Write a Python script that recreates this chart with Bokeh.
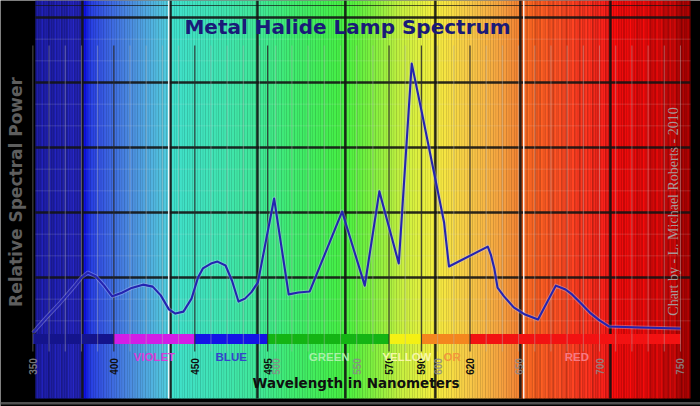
import numpy as np
from bokeh.plotting import figure
from bokeh.models import Range1d, Label
from bokeh.embed import file_html
from bokeh.resources import INLINE

# ---------------- data ----------------
wavelength = [350, 358, 367, 376, 380, 384, 389, 394, 399, 405, 411, 418, 424, 429,
              434, 438, 443, 448, 452, 455, 460, 464, 469, 473, 477, 481, 485, 489,
              499, 508, 514, 521, 541, 555, 564, 576, 584, 590, 604, 607, 631, 633,
              635, 637, 641, 647, 654, 662, 673, 679, 683, 688, 694, 700, 706, 725, 750]
power = [3.0, 7.5, 12.3, 17.5, 20.0, 21.5, 20.3, 17.5, 14.2, 15.3, 16.8, 17.8, 17.2, 14.5,
         10.2, 8.9, 9.5, 13.5, 20.0, 22.8, 24.3, 24.9, 23.7, 19.0, 12.6, 13.5, 15.5, 18.5,
         44.3, 14.8, 15.4, 15.7, 40.3, 17.5, 46.5, 24.3, 85.8, 71.4, 36.9, 23.4, 29.5, 26.8,
         22.8, 16.9, 14.2, 10.8, 8.6, 7.1, 17.5, 16.3, 14.8, 12.3, 9.2, 6.8, 4.9, 4.6, 4.3]

tick_values = [350, 400, 450, 495, 500, 550, 570, 590, 600, 620, 650, 700, 750]
major_ticks = [400, 450, 495, 570, 590, 620]

band_edges = [350, 400, 450, 495, 570, 590, 620, 750]
band_colors = ["#14148c", "#d21ee6", "#1414e6", "#14b414", "#f4f014", "#f4861e", "#f21212"]
band_names = ["", "VIOLET", "BLUE", "GREEN", "YELLOW", "OR", "RED"]
band_name_colors = ["#000000", "#d83cd8", "#3444cc", "#a8f0a8", "#f6f6a8", "#f0963c", "#f47a84"]
band_name_x = [375, 425, 472.5, 533, 581, 609, 686]

# background spectrum colour stops (wavelength, colour)
stop_nm = [351.5, 380.5, 381.5, 386, 395, 410, 425, 434, 436, 460, 488, 510, 543, 560,
           578, 598, 620, 640, 650, 652, 680, 705, 707, 730, 745, 756.2]
stop_col = ["#1c1ca0", "#2424b4", "#0a0ae6", "#2840e2", "#3a60e2", "#4c8ce0", "#52b6e0",
            "#50cedc", "#40e0cc", "#40e4b8", "#40e89a", "#40ec70", "#48f042", "#80f040",
            "#c8f040", "#f6f040", "#f8c848", "#f6a040", "#f48232", "#f86a22", "#f84422",
            "#f01c18", "#f20c0c", "#da0a0a", "#c00808", "#980202"]

# ---------------- geometry helpers ----------------
PX_PER_NM = 1.619
X0 = 330.0
def px_x(px):
    return X0 + px / PX_PER_NM
def px_y(py):
    return (342.0 - py) / 3.25

p = figure(width=700, height=406,
           x_range=Range1d(X0, X0 + 700 / PX_PER_NM),
           y_range=Range1d(px_y(406), px_y(0)),
           x_axis_type=None, y_axis_type=None,
           toolbar_location=None, output_backend="svg", min_border=0,
           background_fill_color="black", border_fill_color="black",
           outline_line_color=None)

# ---------------- spectrum background ----------------
def hex2rgb(h):
    return np.array([int(h[i:i + 2], 16) for i in (1, 3, 5)], dtype=float)

stop_rgb = np.array([hex2rgb(c) for c in stop_col])
left = np.arange(351.5, 756.2, 1.0)
centre = left + 0.5
rgb = np.stack([np.interp(centre, stop_nm, stop_rgb[:, k]) for k in range(3)], axis=1)
striped = (centre < 381) | (centre > 651)
factor = np.where(striped, 1 + 0.10 * np.sin(centre * 2.3) + 0.06 * np.sin(centre * 0.71), 1.0)
rgb = np.clip(rgb * factor[:, None], 0, 255).astype(int)
cols = ["#%02x%02x%02x" % tuple(c) for c in rgb]
p.quad(left=left, right=np.minimum(left + 1.15, 756.2), bottom=px_y(398), top=px_y(0),
       fill_color=cols, line_color=None)

# bottom grey strip
p.quad(left=px_x(0), right=px_x(700), bottom=px_y(404), top=px_y(401.5),
       fill_color="#505050", line_color=None)

# minor horizontal lines
minor_y = [v for v in np.arange(20 / 3, 100, 20 / 3) if abs(v / 20 - round(v / 20)) > 0.01]
p.segment(x0=351.5, x1=756.2, y0=minor_y, y1=minor_y, line_color="#e0e0e0",
          line_alpha=0.17, line_width=1)

# thick background grid
grid_x = [380.6, 435.0, 488.7, 543.0, 598.6, 651.1, 706.7]
grid_y = [20, 40, 60, 80, 100]
p.segment(x0=grid_x, x1=grid_x, y0=px_y(0), y1=px_y(398), line_color="#141414",
          line_alpha=0.9, line_width=2.5)
p.segment(x0=351.5, x1=756.2, y0=grid_y, y1=grid_y, line_color="#141414",
          line_alpha=0.9, line_width=2.5)
p.segment(x0=351.5, x1=756.2, y0=px_y(5), y1=px_y(5), line_color="#141414",
          line_alpha=0.7, line_width=1.2)
white_x = [433.9, 653.2]
p.segment(x0=white_x, x1=white_x, y0=px_y(0), y1=px_y(398), line_color="#ffffff",
          line_alpha=0.9, line_width=1.5)

# colour band
p.quad(left=band_edges[:-1], right=band_edges[1:], bottom=px_y(343.5), top=px_y(333.5),
       fill_color=band_colors, line_color=None)

# thin 10 nm lines
thin = [v for v in range(350, 751, 10) if v not in major_ticks]
p.segment(x0=thin, x1=thin, y0=px_y(45), y1=px_y(351), line_color="#b4b4b4",
          line_alpha=0.45, line_width=1)
p.segment(x0=major_ticks, x1=major_ticks, y0=px_y(45), y1=px_y(351), line_color="#2a2a2a",
          line_alpha=0.85, line_width=1.2)

# spectrum curve
p.line(wavelength, power, line_color="#c8c8ff", line_alpha=0.35, line_width=4.0,
       line_join="round")
p.line(wavelength, power, line_color="#2424b0", line_width=2.1, line_join="round")

# ---------------- texts ----------------
for v in tick_values:
    major = v in major_ticks
    p.add_layout(Label(x=v, y=px_y(366), text=str(v), angle=np.pi / 2,
                       text_align="center", text_baseline="middle",
                       text_font="Liberation Sans", text_font_style="bold",
                       text_font_size="10px",
                       text_color="#101010" if major else "#8a8a8a",
                       text_alpha=1.0 if major else 0.85))

for name, xc, c in zip(band_names, band_name_x, band_name_colors):
    if name:
        p.add_layout(Label(x=xc, y=px_y(356), text=name, text_align="center",
                           text_baseline="middle", text_font="Liberation Sans",
                           text_font_style="bold", text_font_size="11.5px", text_color=c))

p.add_layout(Label(x=px_x(347), y=px_y(26), text="Metal Halide Lamp Spectrum",
                   text_align="center", text_baseline="middle", text_font="DejaVu Sans",
                   text_font_style="bold", text_font_size="20px", text_color="#1a1a78"))
p.add_layout(Label(x=px_x(355.5), y=px_y(382.5), text="Wavelength in Nanometers",
                   text_align="center", text_baseline="middle", text_font="DejaVu Sans",
                   text_font_style="bold", text_font_size="13.5px", text_color="#101010"))
p.add_layout(Label(x=px_x(15), y=px_y(191.5), text="Relative Spectral Power",
                   angle=np.pi / 2, text_align="center", text_baseline="middle",
                   text_font="DejaVu Sans", text_font_style="bold", text_font_size="17px",
                   text_color="#5e5e5e"))
p.add_layout(Label(x=px_x(673), y=px_y(211), text="Chart by - L. Michael Roberts - 2010",
                   angle=np.pi / 2, text_align="center", text_baseline="middle",
                   text_font="Liberation Serif", text_font_size="14px",
                   text_color="#a89898"))

open("out.html", "w").write(file_html(p, INLINE))
